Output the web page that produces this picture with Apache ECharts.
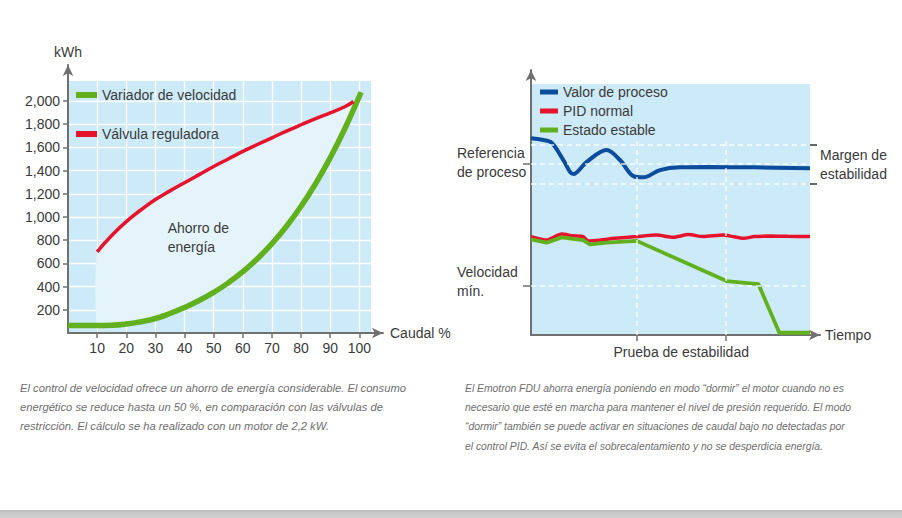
<!DOCTYPE html>
<html><head><meta charset="utf-8">
<script src="https://cdn.jsdelivr.net/npm/echarts@6/dist/echarts.min.js"></script>
<style>html,body{margin:0;padding:0;background:#fff;}#c{width:902px;height:518px;}</style>
</head><body><div id="c"></div>
<script>
// ---- Left chart data (Caudal % vs kWh) ----
const caudalVariador = [0,5,10,15,20,25,30,35,40,45,50,55,60,65,70,75,80,85,90,95,100,100.6];
const kwhVariador    = [65,65,65,67,77,97,125,168,220,280,350,432,528,640,770,920,1092,1288,1510,1760,2040,2075];
const caudalValvula  = [10,15,20,25,30,35,40,45,50,55,60,65,70,75,80,85,90,95,98];
const kwhValvula     = [700,840,960,1060,1150,1225,1295,1365,1435,1500,1565,1625,1682,1740,1795,1848,1898,1950,1995];
const caudalTicks    = [10,20,30,40,50,60,70,80,90,100];
const kwhTicks       = [200,400,600,800,1000,1200,1400,1600,1800,2000];

// ---- Right chart data (Tiempo vs nivel, arbitrary 0-100 units) ----
const tiempoProceso = [0,4,7.4,11.6,15.2,20,27.1,31.9,36.7,40.3,46.2,53.4,63,80,100];
const valorProceso  = [78.4,77.8,76.6,69.7,64.1,69,73.7,69.7,63.3,62.8,65.7,66.8,66.9,66.8,66.4];
const tiempoPid     = [0,5.6,11,15,18.7,20.5,24.7,30,37.9,45,51,56.4,61.8,68.9,72,76.1,80,85.7,92,100];
const valorPid      = [39.2,37.8,40.2,39.5,39.2,37.5,37.8,38.5,39.2,39.8,38.9,40,39.2,39.8,39.3,38.5,39.2,39.4,39.3,39.2];
const tiempoEstable = [0,5.6,11,18.7,21.1,27.1,37.9,70.1,81.5,89,100];
const valorEstable  = [38.1,36.8,38.9,37.8,36.1,36.8,37.5,21.5,20.3,0.9,0.9];
const nivelesGuia   = [75.7,68.4,60.2,19.5];   // margen sup., referencia, margen inf., velocidad mín.
const tiemposGuia   = [37.9,69.8];             // prueba de estabilidad
const topeGuiaVertical = 78;
const nivelReferencia = 68.4, nivelVelMin = 19.5, margenSup = 75.7, margenInf = 60.2;

const captionLeft = [
  'El control de velocidad ofrece un ahorro de energía considerable. El consumo',
  'energético se reduce hasta un 50 %, en comparación con las válvulas de',
  'restricción. El cálculo se ha realizado con un motor de 2,2 kW.'
];
const captionRight = [
  'El Emotron FDU ahorra energía poniendo en modo “dormir” el motor cuando no es',
  'necesario que esté en marcha para mantener el nivel de presión requerido. El modo',
  '“dormir” también se puede activar en situaciones de caudal bajo no detectadas por',
  'el control PID. Así se evita el sobrecalentamiento y no se desperdicia energía.'
];

const FONT = "'Liberation Sans',Arial,sans-serif";
const GREEN = '#62b01e', RED = '#e5132c', BLUE = '#0b4c9c', BG = '#cdeaf8', AXIS = '#707070', TXT = '#3a3a3a';
const pairs = (xs, ys) => xs.map((x, i) => [x, ys[i]]);

const chart = echarts.init(document.getElementById('c'), null, {renderer: 'svg'});
const arrowAxis = (grid, name, gap) => ({
  gridIndex: grid, type: 'value', min: 0, max: 1,
  axisLine: {show: true, onZero: false, symbol: ['none', 'arrow'], symbolSize: [8, 11],
             lineStyle: {color: AXIS, width: 2}},
  axisTick: {show: false}, axisLabel: {show: false}, splitLine: {show: false},
  name: name, nameLocation: 'end', nameGap: gap,
  nameTextStyle: {fontSize: 14, color: TXT, fontFamily: FONT}
});
const tickStyle = {color: AXIS, width: 1.5};

chart.setOption({
  animation: false,
  textStyle: {fontFamily: FONT},
  grid: [
    {left: 68, top: 81, width: 303, height: 252, show: true, backgroundColor: BG, borderWidth: 0},
    {left: 68, top: 65, width: 315, height: 268},
    {left: 531, top: 84, width: 279, height: 251, show: true, backgroundColor: BG, borderWidth: 0},
    {left: 531, top: 70, width: 289, height: 265}
  ],
  xAxis: [
    {gridIndex: 0, type: 'value', min: 0, max: 104, interval: 10,
     axisLine: {show: false},
     axisTick: {show: true, customValues: caudalTicks, length: 5, lineStyle: tickStyle},
     axisLabel: {customValues: caudalTicks, margin: 8, fontSize: 14, color: TXT, fontFamily: FONT},
     splitLine: {show: true, lineStyle: {color: '#ffffff', width: 1.3}}},
    arrowAxis(1, 'Caudal %', 7),
    {gridIndex: 2, type: 'value', min: 0, max: 100,
     axisLine: {show: false},
     axisTick: {show: true, customValues: tiemposGuia, length: 6, lineStyle: tickStyle},
     axisLabel: {customValues: [(tiemposGuia[0] + tiemposGuia[1]) / 2], formatter: () => 'Prueba de estabilidad',
                 margin: 10, fontSize: 14, color: TXT, fontFamily: FONT},
     splitLine: {show: false}},
    arrowAxis(3, 'Tiempo', 5)
  ],
  yAxis: [
    {gridIndex: 0, type: 'value', min: 0, max: 2172, interval: 200,
     axisLine: {show: false},
     axisTick: {show: true, customValues: kwhTicks, length: 5, lineStyle: tickStyle},
     axisLabel: {customValues: kwhTicks, margin: 8, fontSize: 14, color: TXT, fontFamily: FONT,
                 formatter: v => v.toLocaleString('en-US')},
     splitLine: {show: true, lineStyle: {color: '#ffffff', width: 1.3}}},
    Object.assign(arrowAxis(1, 'kWh', 6), {nameTextStyle: {fontSize: 14, color: TXT, fontFamily: FONT, align: 'center'}}),
    {gridIndex: 2, type: 'value', min: 0, max: 100,
     axisLine: {show: false},
     axisTick: {show: true, customValues: [nivelVelMin, nivelReferencia], length: 8, lineStyle: tickStyle},
     axisLabel: {customValues: [nivelVelMin + 1.8, nivelReferencia + 0.4], align: 'left', margin: 74,
                 fontSize: 14, lineHeight: 19, color: TXT, fontFamily: FONT,
                 formatter: v => v > 50 ? 'Referencia\nde proceso' : 'Velocidad\nmín.'},
     splitLine: {show: false}},
    {gridIndex: 2, type: 'value', min: 0, max: 100, position: 'right',
     axisLine: {show: false},
     axisTick: {show: true, customValues: [margenInf, margenSup], length: 7, lineStyle: {color: '#333', width: 1.5}},
     axisLabel: {customValues: [(margenInf + margenSup) / 2], align: 'left', margin: 10,
                 fontSize: 14, lineHeight: 19, color: TXT, fontFamily: FONT,
                 formatter: () => 'Margen de\nestabilidad'},
     splitLine: {show: false}},
    arrowAxis(3, '', 0)
  ],
  legend: [
    {data: ['Variador de velocidad', 'Válvula reguladora'], orient: 'vertical', left: 71, top: 82,
     itemWidth: 21, itemHeight: 6, itemGap: 23, icon: 'rect', selectedMode: false, z: 10,
     textStyle: {fontSize: 14, lineHeight: 16, color: TXT, fontFamily: FONT}},
    {data: ['Valor de proceso', 'PID normal', 'Estado estable'], orient: 'vertical', left: 535, top: 79,
     itemWidth: 18, itemHeight: 5, itemGap: 3, icon: 'rect', selectedMode: false, z: 10,
     textStyle: {fontSize: 14, lineHeight: 16, color: TXT, fontFamily: FONT}}
  ],
  series: [
    {type: 'custom', name: 'Ahorro de energía', xAxisIndex: 0, yAxisIndex: 0, data: [0], silent: true, z: 1,
     renderItem: (params, api) => {
       const pts = [];
       caudalValvula.forEach((x, i) => pts.push(api.coord([x, kwhValvula[i]])));
       for (let i = caudalVariador.length - 1; i >= 0; i--) {
         const x = caudalVariador[i];
         if (x >= caudalValvula[0] && x <= caudalValvula[caudalValvula.length - 1]) pts.push(api.coord([x, kwhVariador[i]]));
       }
       return {type: 'polygon', shape: {points: pts, smooth: 0.2}, style: {fill: '#e5f4fb'}};
     }},
    {type: 'line', name: 'Variador de velocidad', xAxisIndex: 0, yAxisIndex: 0, color: GREEN,
     data: pairs(caudalVariador, kwhVariador), smooth: true, symbol: 'none', z: 3,
     lineStyle: {width: 5.5, color: GREEN}},
    {type: 'line', name: 'Válvula reguladora', xAxisIndex: 0, yAxisIndex: 0, color: RED,
     data: pairs(caudalValvula, kwhValvula), smooth: true, symbol: 'none', z: 3,
     lineStyle: {width: 3.5, color: RED},
     markPoint: {symbol: 'circle', symbolSize: 0, silent: true,
       data: [{coord: [34.2, 821], value: 0}],
       label: {show: true, position: 'right', distance: 0, formatter: 'Ahorro de\nenergía', align: 'left',
               fontSize: 14, lineHeight: 18.5, color: TXT, fontFamily: FONT}}},
    {type: 'line', name: 'guías', xAxisIndex: 2, yAxisIndex: 2, data: [], z: 1, silent: true,
     markLine: {symbol: ['none', 'none'], silent: true, label: {show: false},
       lineStyle: {color: 'rgba(255,255,255,0.85)', type: [5, 4], width: 1.5},
       emphasis: {disabled: true},
       data: nivelesGuia.map(v => [{coord: [0, v]}, {coord: [100, v]}])
             .concat(tiemposGuia.map(t => [{coord: [t, 0]}, {coord: [t, topeGuiaVertical]}]))}},
    {type: 'line', name: 'Valor de proceso', xAxisIndex: 2, yAxisIndex: 2, color: BLUE,
     data: pairs(tiempoProceso, valorProceso), smooth: 0.35, symbol: 'none', z: 3,
     lineStyle: {width: 4, color: BLUE}},
    {type: 'line', name: 'PID normal', xAxisIndex: 2, yAxisIndex: 2, color: RED,
     data: pairs(tiempoPid, valorPid), smooth: 0.2, symbol: 'none', z: 3,
     lineStyle: {width: 3.5, color: RED}},
    {type: 'line', name: 'Estado estable', xAxisIndex: 2, yAxisIndex: 2, color: GREEN,
     data: pairs(tiempoEstable, valorEstable), smooth: false, symbol: 'none', z: 3,
     lineStyle: {width: 3.8, color: GREEN, join: 'round'}}
  ],
  graphic: [
    {type: 'text', x: 20, y: 378, scaleX: 0.975, silent: true,
     style: {text: captionLeft.join('\n'), fontSize: 11.5, fontStyle: 'italic', fontFamily: FONT,
             fill: '#6e6e6e', lineHeight: 19}},
    {type: 'text', x: 465, y: 378, scaleX: 0.9, silent: true,
     style: {text: captionRight.join('\n'), fontSize: 11.5, fontStyle: 'italic', fontFamily: FONT,
             fill: '#6e6e6e', lineHeight: 19.3}},
    {type: 'rect', left: 0, top: 510, silent: true, shape: {width: 902, height: 8},
     style: {fill: new echarts.graphic.LinearGradient(0, 0, 0, 1, [
       {offset: 0, color: '#b9b9b9'}, {offset: 0.3, color: '#c8c8c8'}, {offset: 1, color: '#cfcfcf'}])}}
  ]
});
</script></body></html>
